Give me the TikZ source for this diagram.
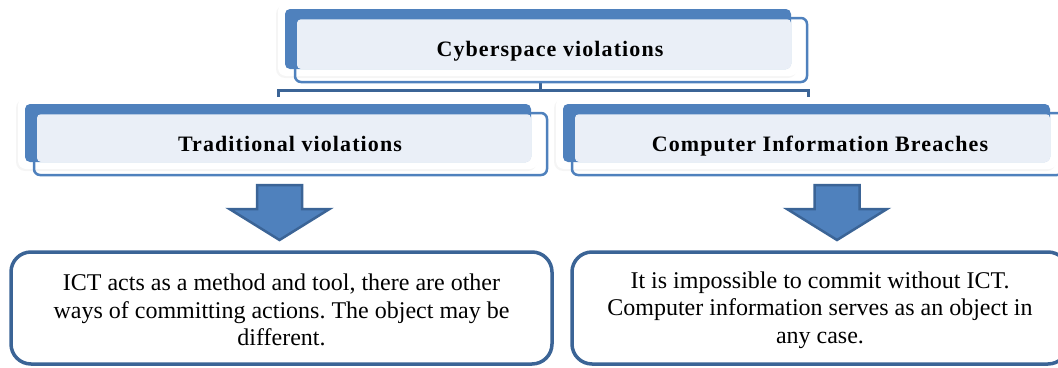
\documentclass[tikz,border=0pt]{standalone}
\usepackage{fontspec}
\setmainfont{Liberation Serif}
\newfontfamily\headfont[LetterSpace=5]{Liberation Serif}
\frenchspacing
\definecolor{ofblue}{HTML}{4F81BD}
\definecolor{ofdark}{HTML}{3B6496}
\definecolor{oflight}{HTML}{EAEFF7}
\tikzset{
  haloshadow/.style={fill=black!4, rounded corners=9pt},
  halo/.style={fill=white, rounded corners=8pt},
  backbox/.style={fill=ofblue, rounded corners=5pt},
  innerbox/.style={fill=oflight, rounded corners=4pt},
  frontbox/.style={draw=ofblue, line width=2.5pt, rounded corners=6pt, inner sep=0pt},
  headtxt/.style={font=\headfont\bfseries\fontsize{22}{26}\selectfont, inner sep=0pt, anchor=base},
  bodybox/.style={draw=ofdark, line width=3.5pt, rounded corners=20pt, fill=white, inner sep=0pt},
  bodytxt/.style={align=center, inner sep=0pt, font=\fontsize{24}{27.5}\selectfont},
  conn/.style={draw=ofdark, line width=3pt},
  blockarrow/.style={fill=ofblue, draw=ofdark, line width=2.5pt, line join=miter},
}
\begin{document}
\begin{tikzpicture}[x=1pt, y=-1pt]
\useasboundingbox (0,0) rectangle (1058,367);
\clip (0,0) rectangle (1058,367);

% named connector points
\coordinate (j)  at (540,90);
\coordinate (jl) at (278,113);
\coordinate (jr) at (808,113);

% top front box reference node
\path (551,50) node[minimum width=512pt, minimum height=64pt, inner sep=0pt] (top) {};

% connectors
\draw[conn] (top.south -| j) -- (j);
\draw[conn] (jl) |- (j) -| (jr);

% halos
\fill[haloshadow] (276,5) rectangle (797,78);
\fill[halo] (278,3) rectangle (798,76);
\fill[haloshadow] (16,99) rectangle (537,171);
\fill[halo] (18,97) rectangle (538,169);
\fill[haloshadow] (554,99) rectangle (1056,171);
\fill[halo] (556,97) rectangle (1057,169);

% back shapes
\fill[backbox] (285,9) rectangle (791,69);
\fill[innerbox] (297,19) rectangle (791,69);
\fill[backbox] (25,104) rectangle (531,162);
\fill[innerbox] (37,114) rectangle (531,162);
\fill[backbox] (563,104) rectangle (1050,162);
\fill[innerbox] (575,114) rectangle (1050,162);

% front outlines
\node[frontbox, minimum width=512pt, minimum height=64pt] at (top.center) {};
\node[frontbox, minimum width=513pt, minimum height=62pt] (tv) at (290.5,144) {};
\node[frontbox, minimum width=491pt, minimum height=62pt] (cib) at (817.5,144) {};

% heading texts
\node[headtxt] (t0) at (550,56.5) {Cyberspace violations};
\node[headtxt] (t1) at (290,151) {Traditional violations};
\node[headtxt] (t2) at (820,151) {Computer Information Breaches};

% block arrows
\coordinate (ar1) at (279.5,185);
\coordinate (ar2) at (837,185);
\draw[blockarrow] (ar1) ++(-22.5,0) -- ++(45,0) -- ++(0,24) -- ++(27.5,0) -- ++(-50,31) -- ++(-50,-31) -- ++(27.5,0) -- cycle;
\draw[blockarrow] (ar2) ++(-22.5,0) -- ++(45,0) -- ++(0,24) -- ++(27.5,0) -- ++(-50,31) -- ++(-50,-31) -- ++(27.5,0) -- cycle;

% bottom boxes
\node[bodybox, minimum width=541pt, minimum height=112pt] (b1) at (281.5,308) {};
\node[bodybox, minimum width=496pt, minimum height=112pt] (b2) at (820,308) {};
\node[bodytxt] (b1t) at (b1.center) [yshift=-2pt]
  {ICT acts as a method and tool, there are other\\ways of committing actions. The object may be\\different.};
\node[bodytxt] (b2t) at (b2.center) [yshift=-2pt]
  {It is impossible to commit without ICT.\\Computer information serves as an object in\\any case.};
\end{tikzpicture}
\end{document}
